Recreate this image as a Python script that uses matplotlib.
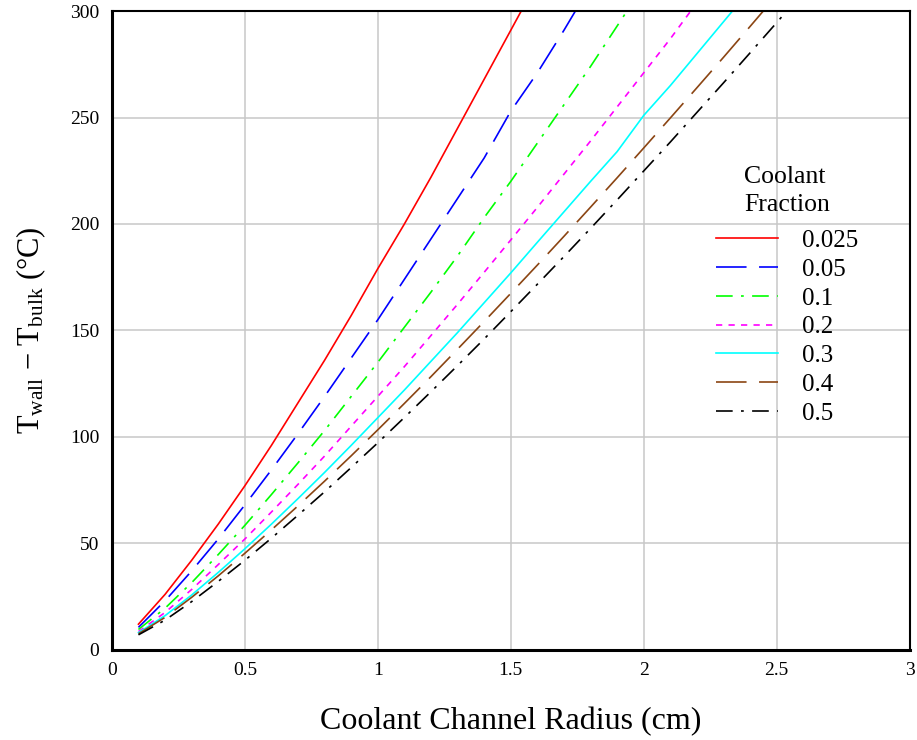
import matplotlib

matplotlib.use("Agg")
import matplotlib.pyplot as plt


# channel radius samples (cm), shared by every curve
RADIUS = [0.1, 0.2, 0.3, 0.4, 0.5, 0.6, 0.7, 0.8, 0.9, 1.0,
          1.1, 1.2, 1.3, 1.4, 1.5, 1.6, 1.7, 1.8, 1.9, 2.0,
          2.1, 2.2, 2.3, 2.4, 2.5, 2.6]

# wall-to-bulk temperature rise (deg C) for each coolant fraction
DT_0025 = [12, 26, 42, 59, 77, 96, 116, 136, 157, 179, 200, 222, 245, 268, 291, 314]
DT_005 = [10.5, 23, 37, 52, 68, 84.5, 101.5, 119, 137, 155, 174, 193, 212, 231, 253,
          271, 291, 312]
DT_01 = [9.5, 19.5, 31.5, 44.7, 58.4, 72.9, 87.8, 103, 119, 135, 151.5, 168, 185, 203,
         220, 238, 256, 274, 293, 312]
DT_02 = [8.5, 17.5, 28.3, 40, 52, 64.7, 77.7, 91, 105, 119, 133, 147.6, 162.3, 177.3,
         192.5, 207.8, 223.4, 239, 255, 271, 287, 304]
DT_03 = [8, 16, 25.7, 36.3, 47.4, 59, 71, 83.3, 96, 109, 122, 135.5, 149, 163, 177,
         191.4, 205.7, 220, 234, 251, 265, 280, 295, 310]
DT_04 = [7.5, 15.2, 24.6, 34.7, 45.3, 56.3, 67.6, 79.2, 91.1, 103.3, 115.7, 128.3, 141.2,
         154.2, 167.4, 180.7, 194.2, 207.9, 221.7, 235.7, 249.8, 264, 278.3, 292.8, 307.4]
DT_05 = [7, 13.9, 22.6, 32.1, 42, 52.4, 63.2, 74.2, 85.6, 97.2, 109.1, 121.2, 133.5, 146,
         158.8, 171.7, 184.7, 197.9, 211.3, 224.9, 238.5, 252.4, 266.3, 280.4, 294.6, 308.9]

LABELS = ["0.025", "0.05", "0.1", "0.2", "0.3", "0.4", "0.5"]
SERIES = [DT_0025, DT_005, DT_01, DT_02, DT_03, DT_04, DT_05]

X_TICKS = [0, 0.5, 1, 1.5, 2, 2.5, 3]
X_TICK_LABELS = ["0", "0.5", "1", "1.5", "2", "2.5", "3"]
Y_TICKS = [0, 50, 100, 150, 200, 250, 300]

STYLES = [
    {"color": "#ff0000", "dashes": ()},
    {"color": "#0000ff", "dashes": (22, 9)},
    {"color": "#00ff00", "dashes": (12, 6, 2, 6)},
    {"color": "#ff00ff", "dashes": (4.5, 4.5)},
    {"color": "#00ffff", "dashes": ()},
    {"color": "#8b4513", "dashes": (22, 9)},
    {"color": "#000000", "dashes": (12, 6, 2, 6)},
]

plt.rcParams["font.family"] = ["Liberation Serif", "DejaVu Serif"]
plt.rcParams["mathtext.fontset"] = "custom"
plt.rcParams["mathtext.rm"] = "Liberation Serif"
plt.rcParams["mathtext.it"] = "Liberation Serif:italic"
plt.rcParams["lines.scale_dashes"] = False

fig = plt.figure(figsize=(9.17, 7.40), dpi=100)
ax = fig.add_axes([0.122, 0.122, 0.870, 0.863])

for vals, label, st in zip(SERIES, LABELS, STYLES):
    line, = ax.plot(RADIUS[:len(vals)], vals, color=st["color"], lw=1.2, label=label)
    if st["dashes"]:
        line.set_dashes(st["dashes"])

ax.set_xlim(0, 3)
ax.set_ylim(0, 300)
ax.set_xticks(X_TICKS)
ax.set_xticklabels(X_TICK_LABELS)
ax.set_yticks(Y_TICKS)
ax.tick_params(length=0, labelsize=14, pad=9)
ax.grid(True, color="#c8c8c8", lw=1.1)
ax.set_axisbelow(True)

for side in ("left", "bottom"):
    ax.spines[side].set_linewidth(2.2)
for side in ("top", "right"):
    ax.spines[side].set_linewidth(1.5)

ax.set_xlabel("Coolant Channel Radius (cm)", fontsize=23, labelpad=20)
ax.set_ylabel(r"T$_{\mathrm{wall}}$ $-$ T$_{\mathrm{bulk}}$ (°C)", fontsize=22, labelpad=16)

leg = ax.legend(
    title="Coolant\nFraction",
    loc="upper left",
    bbox_to_anchor=(0.767, 0.793),
    bbox_transform=fig.transFigure,
    frameon=False,
    fontsize=18,
    title_fontsize=18.5,
    handlelength=2.5,
    handletextpad=0.95,
    labelspacing=0.25,
    borderpad=0.0,
)
leg.get_title().set_linespacing(1.35)
leg._legend_box.sep = 10

fig.savefig("out.png", dpi=100)
